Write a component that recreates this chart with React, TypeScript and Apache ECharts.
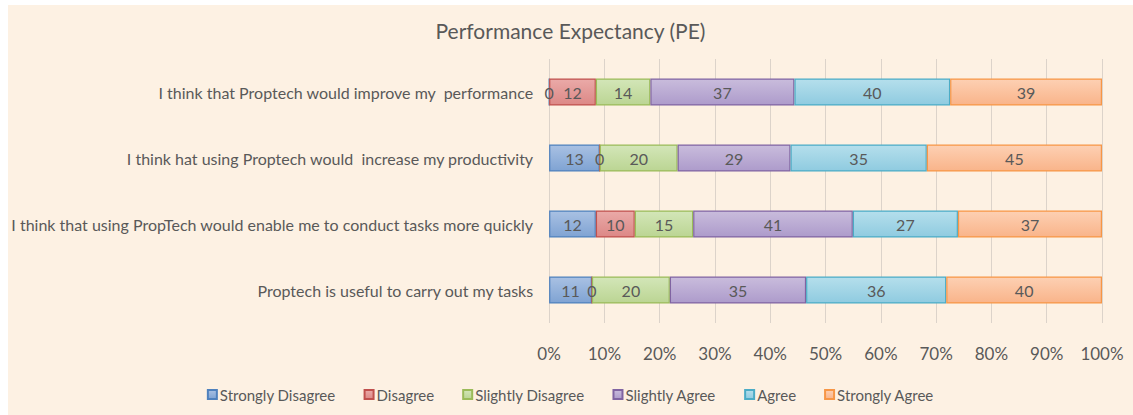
import React, { useEffect, useRef } from "react";
import * as echarts from "echarts";

const categories = [
  "I think that Proptech would improve my  performance",
  "I think hat using Proptech would  increase my productivity",
  "I think that using PropTech would enable me to conduct tasks more quickly",
  "Proptech is useful to carry out my tasks",
];
const seriesNames = ["Strongly Disagree", "Disagree", "Slightly Disagree", "Slightly Agree", "Agree", "Strongly Agree"];
const stronglyDisagree = [0, 13, 12, 11];
const disagree = [12, 0, 10, 0];
const slightlyDisagree = [14, 20, 15, 20];
const slightlyAgree = [37, 29, 41, 35];
const agree = [40, 35, 27, 36];
const stronglyAgree = [39, 45, 37, 40];
const tickLabels = ["0%", "10%", "20%", "30%", "40%", "50%", "60%", "70%", "80%", "90%", "100%"];

const borderColors = ["#4f81bd", "#c0504d", "#9bbb59", "#8064a2", "#4bacc6", "#f79646"];
const topColors = ["#a9c1e3", "#eaaaa8", "#d3e6b8", "#c9bcdc", "#b5dfec", "#fdd0b3"];
const bottomColors = ["#7fa3d3", "#dc8886", "#bbd593", "#ad9bcb", "#8fcbe0", "#f9b48a"];

export default function App() {
  const ref = useRef<HTMLDivElement>(null);
  useEffect(() => {
    if (!ref.current) return;
    const chart = echarts.init(ref.current, undefined, { renderer: "svg" });
    const all = [stronglyDisagree, disagree, slightlyDisagree, slightlyAgree, agree, stronglyAgree];
    const totals = categories.map((_, i) => all.reduce((s, arr) => s + arr[i], 0));
    const font = "Lato, 'Open Sans', sans-serif";
    chart.setOption({
      animation: false,
      backgroundColor: "#fdf1e3",
      title: {
        text: "Performance Expectancy (PE)",
        left: "center",
        top: 10,
        textStyle: { fontFamily: font, fontSize: 21, fontWeight: "normal", color: "#595959" },
      },
      legend: {
        bottom: 8,
        left: "center",
        itemWidth: 9,
        itemHeight: 9,
        itemGap: 28,
        icon: "rect",
        textStyle: { fontFamily: font, fontSize: 15, color: "#595959", padding: [0, 0, 0, -2] },
        data: seriesNames,
      },
      grid: { left: 539, right: 31, top: 54, bottom: 92 },
      xAxis: {
        type: "value",
        min: 0,
        max: 100,
        interval: 10,
        axisLine: { show: false },
        axisTick: { show: false },
        splitLine: { show: true, lineStyle: { color: "#dcd3ca", width: 1 } },
        axisLabel: {
          fontFamily: font,
          fontSize: 17,
          color: "#595959",
          margin: 22,
          formatter: (v: number) => tickLabels[Math.round(v / 10)],
        },
      },
      yAxis: {
        type: "category",
        inverse: true,
        data: categories,
        axisLine: { show: false },
        axisTick: { show: false },
        axisLabel: { fontFamily: font, fontSize: 16, color: "#595959", margin: 16 },
      },
      series: seriesNames.map((name, si) => ({
        name,
        type: "bar",
        stack: "total",
        barWidth: 27,
        itemStyle: {
          color: new echarts.graphic.LinearGradient(0, 0, 0, 1, [
            { offset: 0, color: topColors[si] },
            { offset: 1, color: bottomColors[si] },
          ]),
          borderColor: borderColors[si],
          borderWidth: 1.2,
        },
        label: {
          show: true,
          position: "inside",
          fontFamily: font,
          fontSize: 16,
          color: "#595959",
          formatter: (p: any) => String(all[si][p.dataIndex]),
        },
        data: all[si].map((v, i) => (v / totals[i]) * 100),
      })),
    });
    return () => chart.dispose();
  }, []);
  return (
    <div
      ref={ref}
      style={{ position: "absolute", left: 8, top: 5, width: 1125, height: 410 }}
    />
  );
}
